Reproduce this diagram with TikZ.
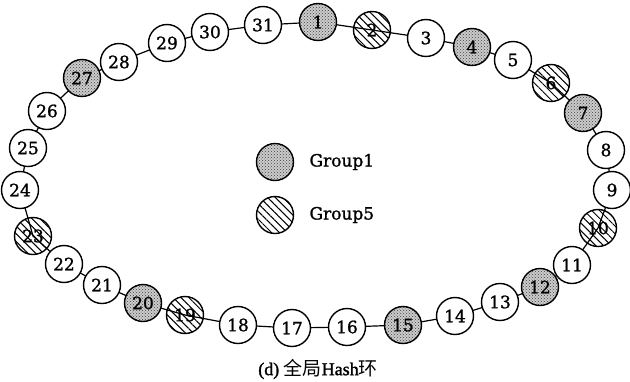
\documentclass[tikz,border=0pt]{standalone}
\usepackage{fontspec}
\setmainfont{DejaVu Serif}[FakeBold=1.2]
\newfontfamily\capfont{Liberation Serif}[FakeBold=1.5]
\newfontfamily\cjk{Noto Sans CJK SC}
\usetikzlibrary{patterns,patterns.meta}
\begin{document}
\begin{tikzpicture}[x=1pt,y=-1pt,
  ring/.style={circle,draw,line width=1.4pt,minimum size=37pt,inner sep=0pt,font=\fontsize{17}{19}\selectfont},
  plain/.style={ring,fill=white},
  grpone/.style={ring,preaction={fill=gray!40},pattern=crosshatch dots,pattern color=gray!50!black},
  grpfive/.style={ring,pattern={Lines[angle=-45,distance=5.5pt,line width=1pt]},pattern color=black},
  link/.style={line width=1.2pt},
  legtext/.style={anchor=west,font=\fontsize{17}{19}\selectfont}]
\useasboundingbox (0,0) rectangle (630,381);
\coordinate (c1) at (318,22);
\coordinate (c2) at (372,30);
\coordinate (c3) at (426,38);
\coordinate (c4) at (472,47);
\coordinate (c5) at (513,60);
\coordinate (c6) at (551,83);
\coordinate (c7) at (583,113);
\coordinate (c8) at (606,150);
\coordinate (c9) at (612,190);
\coordinate (c10) at (598,228);
\coordinate (c11) at (572,265);
\coordinate (c12) at (540,287);
\coordinate (c13) at (500,302);
\coordinate (c14) at (455,316);
\coordinate (c15) at (403,325);
\coordinate (c16) at (347,327);
\coordinate (c17) at (292,328);
\coordinate (c18) at (238,325);
\coordinate (c19) at (185,315);
\coordinate (c20) at (143,303);
\coordinate (c21) at (102,285);
\coordinate (c22) at (64,264);
\coordinate (c23) at (33,236);
\coordinate (c24) at (20,190);
\coordinate (c25) at (28,148);
\coordinate (c26) at (47,111);
\coordinate (c27) at (82,78);
\coordinate (c28) at (119,62);
\coordinate (c29) at (167,43);
\coordinate (c30) at (210,32);
\coordinate (c31) at (263,25);
\draw[link] (c1) \foreach \i in {2,...,31} { -- (c\i) } -- cycle;
\foreach \i in {1,...,31} {
  \def\st{plain}
  \ifnum\i=1 \def\st{grpone}\fi
  \ifnum\i=4 \def\st{grpone}\fi
  \ifnum\i=7 \def\st{grpone}\fi
  \ifnum\i=12 \def\st{grpone}\fi
  \ifnum\i=15 \def\st{grpone}\fi
  \ifnum\i=20 \def\st{grpone}\fi
  \ifnum\i=27 \def\st{grpone}\fi
  \ifnum\i=2 \def\st{grpfive}\fi
  \ifnum\i=6 \def\st{grpfive}\fi
  \ifnum\i=10 \def\st{grpfive}\fi
  \ifnum\i=19 \def\st{grpfive}\fi
  \ifnum\i=23 \def\st{grpfive}\fi
  \node[\st] (n\i) at (c\i) {\i};
}
\node[grpone] (g1) at (275,162) {};
\node[grpfive] (g5) at (275,215) {};
\node[legtext] (t1) at (306,162) {Group1};
\node[legtext] (t5) at (306,215) {Group5};
\node[font=\capfont\fontsize{18}{20}\selectfont] (cap) at (318,369) {(d) {\cjk\fontsize{19}{20}\selectfont 全局}Hash{\cjk\fontsize{19}{20}\selectfont 环}};
\end{tikzpicture}
\end{document}
